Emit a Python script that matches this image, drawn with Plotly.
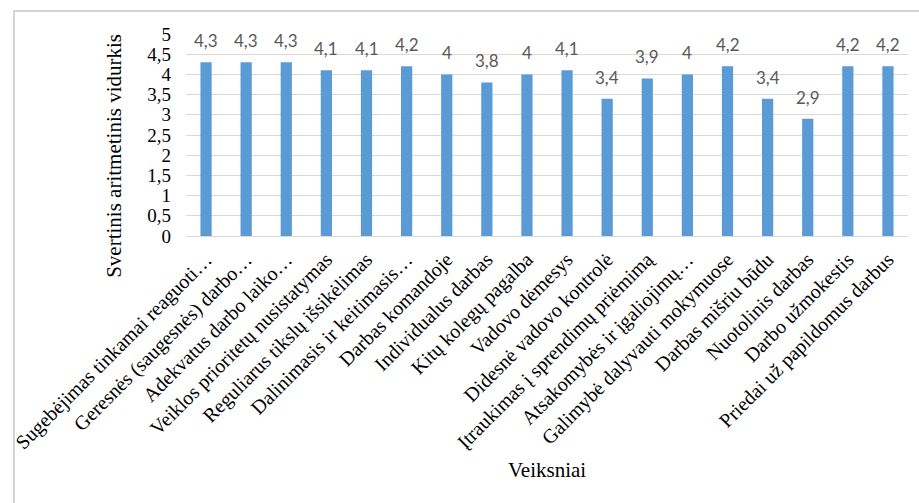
import plotly.graph_objects as go

# Factor names (long ones shortened with an ellipsis)
factors = [
    "Sugebėjimas tinkamai reaguoti…",
    "Geresnės (saugesnės) darbo…",
    "Adekvatus darbo laiko…",
    "Veiklos prioritetų nusistatymas",
    "Reguliarus tikslų išsikėlimas",
    "Dalinimasis ir keitimasis…",
    "Darbas komandoje",
    "Individualus darbas",
    "Kitų kolegų pagalba",
    "Vadovo dėmesys",
    "Didesnė vadovo kontrolė",
    "Įtraukimas į sprendimų priėmimą",
    "Atsakomybės ir įgaliojimų…",
    "Galimybė dalyvauti mokymuose",
    "Darbas mišriu būdu",
    "Nuotolinis darbas",
    "Darbo užmokestis",
    "Priedai už papildomus darbus",
]

# Weighted arithmetic mean for each factor
means = [4.3, 4.3, 4.3, 4.1, 4.1, 4.2, 4.0, 3.8, 4.0, 4.1,
         3.4, 3.9, 4.0, 4.2, 3.4, 2.9, 4.2, 4.2]

y_ticks = [0, 0.5, 1, 1.5, 2, 2.5, 3, 3.5, 4, 4.5, 5]

x_title = "Veiksniai"
y_title = "Svertinis aritmetinis vidurkis"

BAR = "#5b9bd5"
GRID = "#d9d9d9"
SERIF = "'Times New Roman', 'Liberation Serif', 'DejaVu Serif', serif"


def fmt(v):
    s = f"{v:g}"
    return s.replace(".", ",")


fig = go.Figure(
    go.Bar(
        x=list(range(len(factors))),
        y=means,
        marker=dict(color=BAR, line=dict(width=0)),
        width=0.28,
        hoverinfo="skip",
    )
)

# value labels above each bar
for i, v in enumerate(means):
    fig.add_annotation(
        x=i, y=v, xref="x", yref="y",
        text=fmt(v), showarrow=False,
        yanchor="bottom", yshift=9,
        font=dict(family="Lato", size=17, color="#595959"),
    )

# axis titles
fig.add_annotation(
    x=-0.1, y=0.396, xref="paper", yref="paper",
    text=y_title, showarrow=False, textangle=-90,
    xanchor="center", yanchor="middle",
    font=dict(family=SERIF, size=21, color="#000000"),
)
fig.add_annotation(
    x=0.5, y=-1.158, xref="paper", yref="paper",
    text=x_title, showarrow=False,
    xanchor="center", yanchor="middle",
    font=dict(family=SERIF, size=21, color="#000000"),
)

# light frame around the whole chart
fig.add_shape(
    type="rect", xref="paper", yref="paper",
    x0=-0.2383, x1=1.03, y0=-1.35, y1=1.1139,
    line=dict(color="#d4d4d4", width=2), fillcolor="rgba(0,0,0,0)",
    layer="below",
)

fig.update_layout(
    width=919, height=503,
    margin=dict(l=182, r=11, t=34, b=267),
    paper_bgcolor="white", plot_bgcolor="white",
    separators=",.",
    showlegend=False,
    font=dict(family=SERIF),
)

fig.update_xaxes(
    tickmode="array",
    tickvals=list(range(len(factors))),
    ticktext=factors,
    tickangle=-45,
    tickfont=dict(family=SERIF, size=20, color="#000000"),
    range=[-0.5, len(factors) - 0.5],
    showgrid=False, zeroline=False,
    showline=True, linecolor=GRID, linewidth=1,
    ticks="",
    ticklabelstandoff=3,
)

fig.update_yaxes(
    range=[0, 5],
    tickmode="array",
    tickvals=y_ticks,
    ticktext=[fmt(t) for t in y_ticks],
    tickfont=dict(family=SERIF, size=19, color="#000000"),
    showgrid=True, gridcolor=GRID, gridwidth=1,
    zeroline=False, showline=False, ticks="",
    ticklabelstandoff=14,
)

fig.write_html("out.html")
